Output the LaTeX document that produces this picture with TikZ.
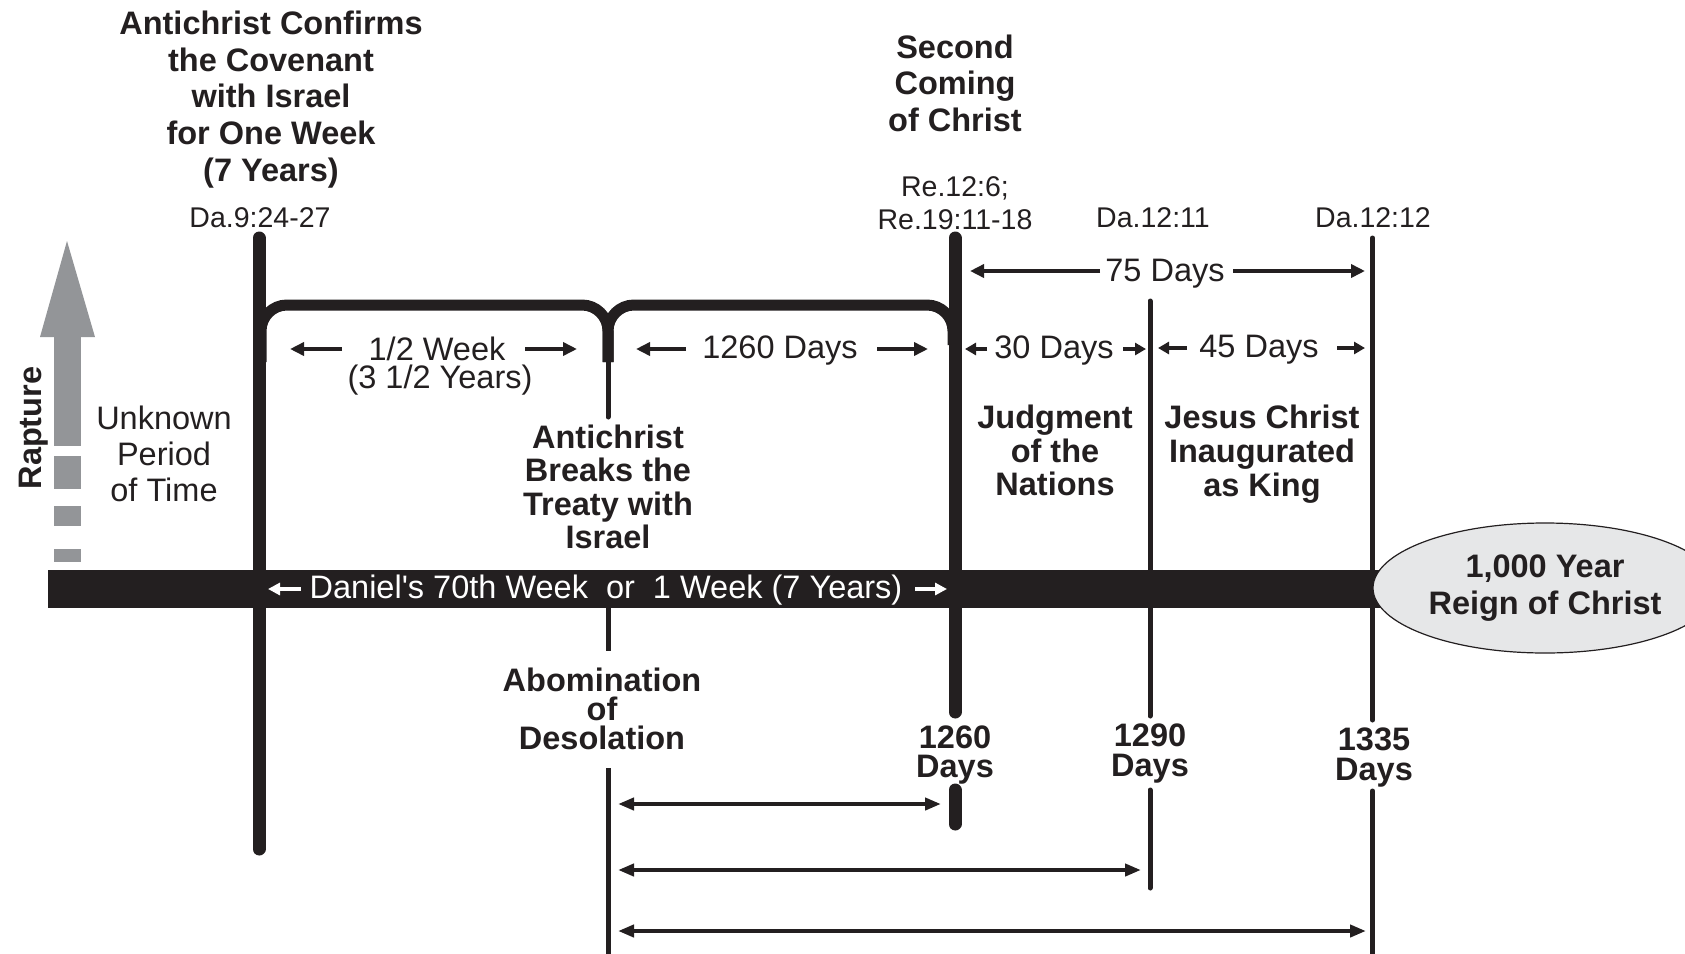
\documentclass[tikz,border=0pt]{standalone}
\usepackage{fontspec}
\setmainfont{Liberation Sans}
\usetikzlibrary{arrows.meta,shapes.geometric}
\definecolor{ink}{HTML}{231F20}
\definecolor{raptgray}{HTML}{939598}
\definecolor{reignfill}{HTML}{E6E7E8}
\begin{document}
\begin{tikzpicture}[x=0.5pt,y=-0.5pt,
  lbl/.style={font=\fontsize{16.25pt}{#1}\selectfont, text=ink, align=center, inner sep=0pt},
  lbl/.default=18pt,
  blbl/.style={font=\fontsize{16.25pt}{#1}\selectfont\bfseries, text=ink, align=center, inner sep=0pt},
  blbl/.default=16.75pt,
  reflbl/.style={font=\fontsize{14.25pt}{#1}\selectfont, text=ink, align=center, inner sep=0pt},
  reflbl/.default=16.5pt,
  heavyline/.style={draw=ink, line width=6.5pt, line cap=round},
  thinline/.style={draw=ink, line width=2.5pt, line cap=round},
  bracketline/.style={draw=ink, line width=5.5pt, rounded corners=13pt},
  arr/.style={draw=ink, line width=2.4pt, -{Triangle[length=7pt,width=6.5pt]}},
  sarr/.style={draw=ink, line width=2.2pt, -{Triangle[length=5.5pt,width=6pt]}},
  darr/.style={draw=ink, line width=2pt, {Triangle[length=8pt,width=6pt]}-{Triangle[length=8pt,width=6pt]}},
  warr/.style={draw=white, line width=2.2pt, -{Triangle[length=6pt,width=6pt]}}
]
\useasboundingbox (0,0) rectangle (1685,953);

% rapture arrow
\fill[raptgray] (40,337) -- (67,241) -- (95,337) -- cycle;
\fill[raptgray] (54,336) rectangle (81,446);
\fill[raptgray] (54,456) rectangle (81,489);
\fill[raptgray] (54,506) rectangle (81,526);
\fill[raptgray] (54,549) rectangle (81,562);

% time bar
\fill[ink] (48,570) rectangle (1420,608);

% vertical lines
\coordinate (At) at (259,238);   \coordinate (Ab) at (259,849);
\coordinate (Ct) at (955,238);   \coordinate (Cm1) at (955,712);
\coordinate (Cm2) at (955,790);  \coordinate (Cb) at (955,824);
\coordinate (Dt) at (1150,301);  \coordinate (Dm1) at (1150,716);
\coordinate (Dm2) at (1150,790); \coordinate (Db) at (1150,888);
\coordinate (Et) at (1372.5,238); \coordinate (Em1) at (1372.5,720);
\coordinate (Em2) at (1372.5,791); \coordinate (Eb) at (1372.5,956);
\coordinate (B1t) at (608,358);  \coordinate (B1b) at (608,417);
\coordinate (B2t) at (608,606);  \coordinate (B2b) at (608,651);
\coordinate (B3t) at (608,768);  \coordinate (B3b) at (608,956);
\draw[heavyline] (At) -- (Ab);
\draw[heavyline] (Ct) -- (Cm1);
\draw[heavyline] (Cm2) -- (Cb);
\draw[thinline] (Dt) -- (Dm1);
\draw[thinline] (Dm2) -- (Db);
\draw[thinline] (Et) -- (Em1);
\draw[thinline] (Em2) -- (Eb);
\draw[thinline] (B1t) -- (B1b);
\draw[thinline, line cap=butt] (B2t) -- (B2b);
\draw[thinline, line cap=butt] (B3t) -- (B3b);

% brackets
\draw[bracketline] (261,362) -- (261,305) -- (608,305) -- (608,362);
\draw[bracketline] (608,362) -- (608,305) -- (953,305) -- (953,345);

% top labels
\node[blbl=18.4pt] (title) at (271,99.5) {Antichrist Confirms\\the Covenant\\with Israel\\for One Week\\(7 Years)};
\node[blbl=18.25pt] (second) at (955,83) {Second\\Coming\\of Christ};
\node[reflbl] (re) at (955,203) {Re.12:6;\\Re.19:11-18};
\node[reflbl] (da1) at (260,218) {Da.9:24-27};
\node[reflbl] (da2) at (1153,218) {Da.12:11};
\node[reflbl] (da3) at (1373,218) {Da.12:12};

% 75 days
\node[lbl] (t75) at (1165,274) {75 Days};
\coordinate (a75lt) at (1100,271); \coordinate (a75lh) at (970,271);
\coordinate (a75rt) at (1233,271); \coordinate (a75rh) at (1365,271);
\draw[arr] (a75lt) -- (a75lh);
\draw[arr] (a75rt) -- (a75rh);

% bracket row
\node[lbl] (thw) at (437,349) {1/2 Week};
\node[lbl] (thy) at (440,380) {(3 1/2 Years)};
\node[lbl] (t1260) at (780,351) {1260 Days};
\node[lbl] (t30) at (1054,351) {30 Days};
\node[lbl] (t45) at (1259,350) {45 Days};
\coordinate (hwlt) at (342,349); \coordinate (hwlh) at (290,349);
\coordinate (hwrt) at (525,349); \coordinate (hwrh) at (577,349);
\coordinate (dlt) at (686,349); \coordinate (dlh) at (636,349);
\coordinate (drt) at (877,349); \coordinate (drh) at (928,349);
\coordinate (tlt) at (987,349); \coordinate (tlh) at (965,349);
\coordinate (trt) at (1123,349); \coordinate (trh) at (1146,349);
\coordinate (flt) at (1187,348); \coordinate (flh) at (1158,348);
\coordinate (frt) at (1337,348); \coordinate (frh) at (1365,348);
\draw[arr] (hwlt) -- (hwlh);
\draw[arr] (hwrt) -- (hwrh);
\draw[arr] (dlt) -- (dlh);
\draw[arr] (drt) -- (drh);
\draw[sarr] (tlt) -- (tlh);
\draw[sarr] (trt) -- (trh);
\draw[sarr] (flt) -- (flh);
\draw[sarr] (frt) -- (frh);

% middle labels
\node[lbl=18pt] (unk) at (164,454) {Unknown\\Period\\of Time};
\node[blbl, rotate=90] (rapt) at (33.5,428) {Rapture};
\node[blbl=16.65pt] (breaks) at (608,487) {Antichrist\\Breaks the\\Treaty with\\Israel};
\node[blbl=16.75pt] (judg) at (1055,450.5) {Judgment\\of the\\Nations};
\node[blbl=17pt] (jesus) at (1262,454) {Jesus Christ\\Inaugurated\\as King};

% bar text
\node[lbl, text=white] (bartext) at (606,590) {Daniel\textquotesingle s 70th Week\ \ or\ \ 1 Week (7 Years)};
\coordinate (wlt) at (301,589); \coordinate (wlh) at (268,589);
\coordinate (wrt) at (915,589); \coordinate (wrh) at (947,589);
\draw[warr] (wlt) -- (wlh);
\draw[warr] (wrt) -- (wrh);

% reign ellipse
\begin{scope}
\clip (0,0) rectangle (1685,953);
\node[ellipse, draw=ink, line width=0.6pt, fill=reignfill, minimum width=172pt, minimum height=65pt, inner sep=0pt,
  font=\fontsize{16.25pt}{18.5pt}\selectfont\bfseries, text=ink, align=center] (reign) at (1545,588) {1,000 Year\\Reign of Christ};
\end{scope}

% bottom labels
\node[blbl=14.5pt] (abom) at (602,709) {Abomination\\of\\Desolation};
\node[blbl=14.5pt] (d1260) at (955,755) {1260\\Days};
\node[blbl=15pt] (d1290) at (1150,754) {1290\\Days};
\node[blbl=15pt] (d1335) at (1374,758) {1335\\Days};

% bottom spans
\coordinate (s1a) at (618,804); \coordinate (s1b) at (941,804);
\coordinate (s2a) at (618,870); \coordinate (s2b) at (1141,870);
\coordinate (s3a) at (618,931); \coordinate (s3b) at (1366,931);
\draw[darr] (s1a) -- (s1b);
\draw[darr] (s2a) -- (s2b);
\draw[darr] (s3a) -- (s3b);
\end{tikzpicture}
\end{document}
